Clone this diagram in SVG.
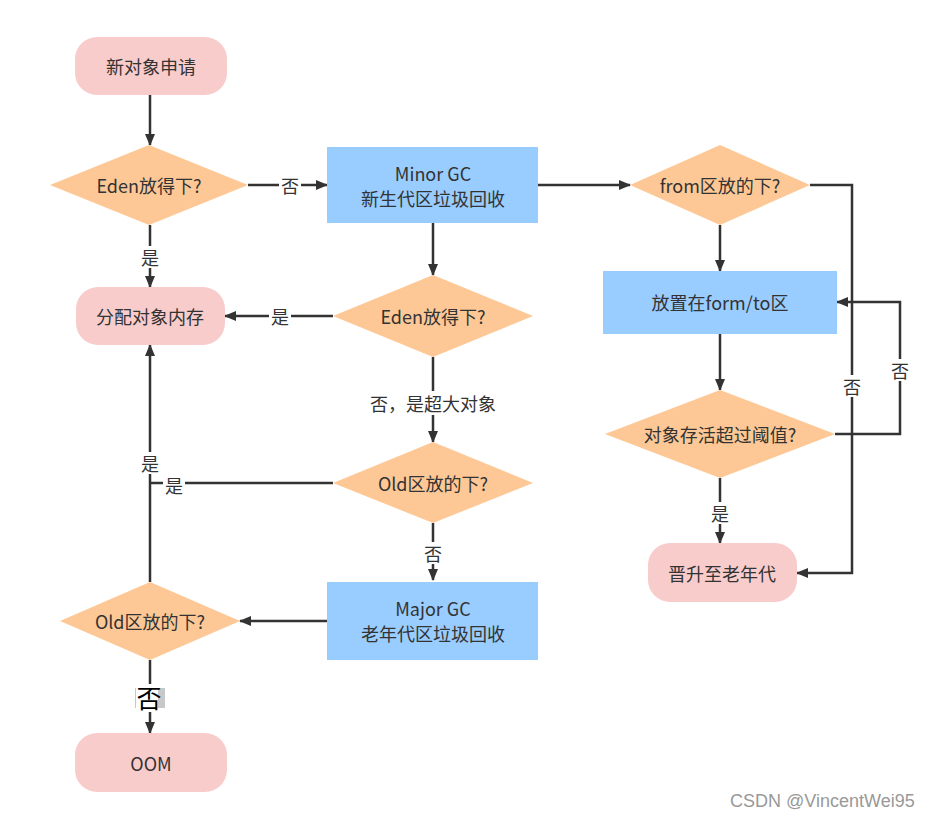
<svg xmlns="http://www.w3.org/2000/svg" width="938" height="818" viewBox="0 0 938 818">
<style>
.term{fill:#f9cccc}
.dec{fill:#fdc895}
.proc{fill:#99ccff}
text{font-family:"Noto Sans CJK SC","Microsoft YaHei",sans-serif;font-size:18px;fill:#333;text-anchor:middle;dominant-baseline:central}
.edge{fill:none;stroke:#333;stroke-width:2.5}
.lbl{fill:#fff}
.wm{font-family:"Liberation Sans",Arial,sans-serif;font-size:18px;fill:#999;text-anchor:start}
</style>
<defs>
<marker id="ah" markerWidth="12" markerHeight="10" refX="11" refY="5" orient="auto" markerUnits="userSpaceOnUse">
<path d="M0,0 L12,5 L0,10 Z" fill="#333"/>
</marker>
</defs>
<rect width="938" height="818" fill="#fff"/>
<g id="connectors">
<path class="edge" d="M150,95 V145" marker-end="url(#ah)"/>
<path class="edge" d="M248,185 H327" marker-end="url(#ah)"/>
<path class="edge" d="M150,225 V287" marker-end="url(#ah)"/>
<path class="edge" d="M433,223 V275" marker-end="url(#ah)"/>
<path class="edge" d="M333,316 H225" marker-end="url(#ah)"/>
<path class="edge" d="M433,357 V442" marker-end="url(#ah)"/>
<path class="edge" d="M333,483 H150"/>
<path class="edge" d="M433,523 V580" marker-end="url(#ah)"/>
<path class="edge" d="M327,621 H240" marker-end="url(#ah)"/>
<path class="edge" d="M150,582 V345" marker-end="url(#ah)"/>
<path class="edge" d="M150,660 V733" marker-end="url(#ah)"/>
<path class="edge" d="M538,185 H630" marker-end="url(#ah)"/>
<path class="edge" d="M720,225 V271" marker-end="url(#ah)"/>
<path class="edge" d="M810,185 H852 V573 H797" marker-end="url(#ah)"/>
<path class="edge" d="M720,334 V390" marker-end="url(#ah)"/>
<path class="edge" d="M835,434 H900 V302 H837" marker-end="url(#ah)"/>
<path class="edge" d="M720,478 V543" marker-end="url(#ah)"/>
<rect class="lbl" x="279" y="174" width="22" height="22"/><text x="290" y="185">否</text>
<rect class="lbl" x="140" y="246" width="20" height="22"/><text x="150" y="257">是</text>
<rect class="lbl" x="269" y="305" width="22" height="22"/><text x="280" y="316">是</text>
<rect class="lbl" x="368" y="391" width="130" height="24"/><text x="433" y="403">否，是超大对象</text>
<rect class="lbl" x="163" y="474" width="22" height="22"/><text x="174" y="485">是</text>
<rect class="lbl" x="140" y="452" width="20" height="22"/><text x="150" y="463">是</text>
<rect class="lbl" x="423" y="542" width="20" height="22"/><text x="433" y="553">否</text>
<rect x="135" y="688" width="30" height="20" fill="#c8c8c8"/>
<rect x="136" y="684" width="22" height="28" fill="#fff"/>
<text x="149" y="697" style="font-size:25px;fill:#000">否</text>
<rect class="lbl" x="842" y="375" width="20" height="22"/><text x="852" y="386">否</text>
<rect class="lbl" x="890" y="359" width="20" height="22"/><text x="900" y="370">否</text>
<rect class="lbl" x="710" y="502" width="20" height="22"/><text x="720" y="513">是</text>
</g>
<g id="n_new"><rect class="term" x="75" y="37" width="152" height="58" rx="22"/><text x="151" y="66">新对象申请</text></g>
<g id="n_eden1"><polygon class="dec" points="149,145 248,185 149,225 50,185"/><text x="149" y="185">Eden放得下?</text></g>
<g id="n_minor"><rect class="proc" x="327" y="147" width="211" height="76"/><text x="433" y="173">Minor GC</text><text x="433" y="198">新生代区垃圾回收</text></g>
<g id="n_alloc"><rect class="term" x="76" y="287" width="149" height="58" rx="22"/><text x="150" y="316">分配对象内存</text></g>
<g id="n_eden2"><polygon class="dec" points="433,275 533,316 433,357 333,316"/><text x="433" y="316">Eden放得下?</text></g>
<g id="n_old1"><polygon class="dec" points="433,442 533,483 433,523 333,483"/><text x="433" y="483">Old区放的下?</text></g>
<g id="n_major"><rect class="proc" x="327" y="582" width="211" height="78"/><text x="433" y="608">Major GC</text><text x="433" y="633">老年代区垃圾回收</text></g>
<g id="n_old2"><polygon class="dec" points="150,582 240,621 150,660 60,621"/><text x="150" y="621">Old区放的下?</text></g>
<g id="n_oom"><rect class="term" x="75" y="733" width="152" height="59" rx="22"/><text x="151" y="763">OOM</text></g>
<g id="n_from"><polygon class="dec" points="720,145 810,185 720,225 630,185"/><text x="720" y="185">from区放的下?</text></g>
<g id="n_place"><rect class="proc" x="603" y="271" width="234" height="63"/><text x="720" y="302">放置在form/to区</text></g>
<g id="n_thresh"><polygon class="dec" points="720,390 835,434 720,478 605,434"/><text x="720" y="434">对象存活超过阈值?</text></g>
<g id="n_promote"><rect class="term" x="648" y="543" width="149" height="59" rx="22"/><text x="722" y="573">晋升至老年代</text></g>
<text class="wm" x="730" y="801">CSDN @VincentWei95</text>
</svg>
